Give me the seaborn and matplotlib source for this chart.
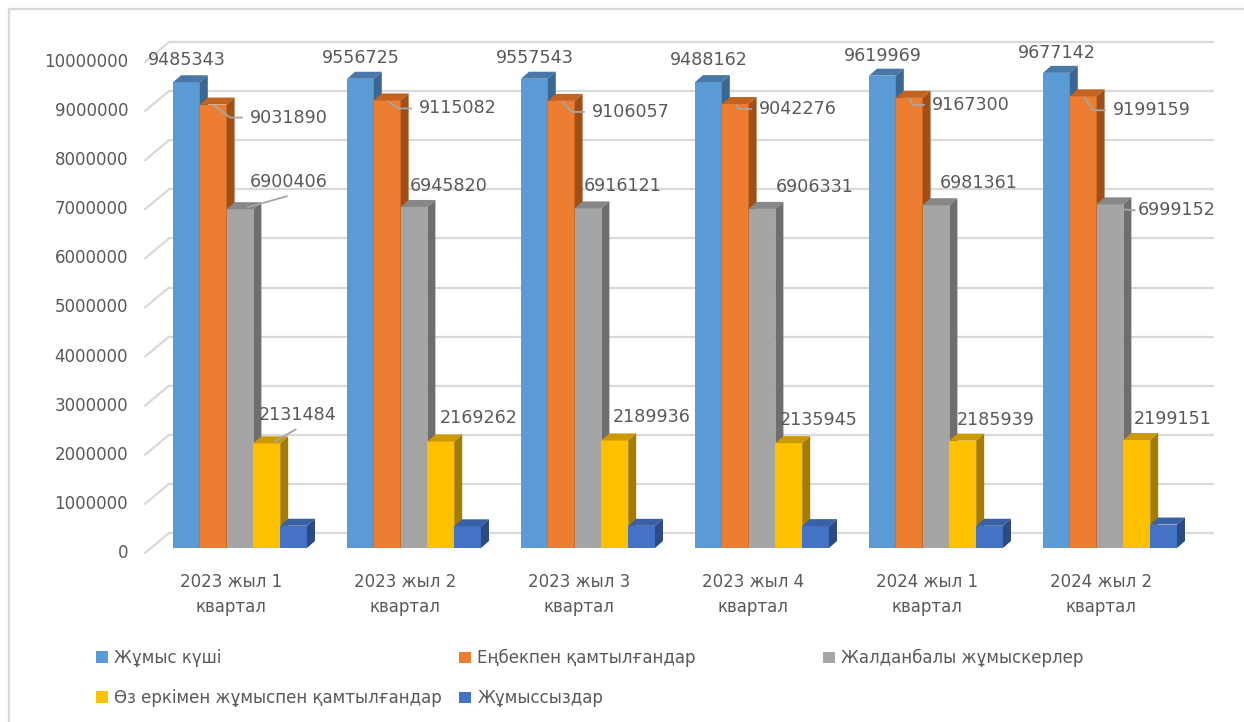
import matplotlib
matplotlib.use('Agg')
import matplotlib.pyplot as plt
import matplotlib.transforms as mtransforms
from matplotlib.patches import Polygon, Patch, Rectangle
from matplotlib.lines import Line2D
import pandas as pd
import seaborn as sns

# Data
quarters = ['2023 жыл 1\nквартал', '2023 жыл 2\nквартал', '2023 жыл 3\nквартал',
            '2023 жыл 4\nквартал', '2024 жыл 1\nквартал', '2024 жыл 2\nквартал']
series = ['Жұмыс күші', 'Еңбекпен қамтылғандар', 'Жалданбалы жұмыскерлер',
          'Өз еркімен жұмыспен қамтылғандар', 'Жұмыссыздар']

labour_force = [9485343, 9556725, 9557543, 9488162, 9619969, 9677142]
employed = [9031890, 9115082, 9106057, 9042276, 9167300, 9199159]
hired = [6900406, 6945820, 6916121, 6906331, 6981361, 6999152]
self_employed = [2131484, 2169262, 2189936, 2135945, 2185939, 2199151]
unemployed = [453453, 441643, 451486, 445886, 452669, 477983]

y_ticks = list(range(0, 10_000_001, 1_000_000))

# colours: front, top and side faces of the pseudo-3D bars
front_colors = ['#5B9BD5', '#ED7D31', '#A5A5A5', '#FFC000', '#4472C4']
top_colors = ['#4778A8', '#C4621F', '#878787', '#CC9A00', '#3A60A6']
side_colors = ['#3B6792', '#A04F17', '#6E6E6E', '#A67C00', '#2C4A85']
text_color = '#595959'
grid_color = '#D9D9D9'

# label offsets in pixels (right, down) from the top centre of each bar
label_dx = [[0, 0, 0, 0, 0, 0],
            [76, 71, 70, 63, 62, 69],
            [49, 35, 35, 53, 43, 67],
            [31, 38, 37, 30, 33, 36]]
label_dy = [[-22, -21, -21, -22, -20, -20],
            [13, 8, 11, 5, 7, 14],
            [-27, -21, -22, -22, -22, 6],
            [-28, -23, -23, -23, -21, -21]]
extra_leaders = [(2, 0), (2, 5), (3, 0)]

df = pd.DataFrame({
    'quarter': quarters * 5,
    'series': [s for s in series for _ in quarters],
    'value': labour_force + employed + hired + self_employed + unemployed,
})

sns.set_theme(style='white')
plt.rcParams['font.family'] = ['DejaVu Sans']

W, H = 1244, 722
fig = plt.figure(figsize=(W / 100, H / 100), dpi=100)
fig.patch.set_facecolor('white')
ax = fig.add_axes([153 / W, (H - 548) / H, 1044 / W, 491 / H])

sns.barplot(data=df, x='quarter', y='value', hue='series', order=quarters,
            hue_order=series, palette=front_colors, saturation=1, width=0.77,
            errorbar=None, legend=False, linewidth=0, ax=ax)

ax.set_xlim(-0.5, 5.5)
ax.set_ylim(0, 10_000_000)
ax.set_xticks([])
ax.set_yticks([])
ax.set_xlabel('')
ax.set_ylabel('')
ax.grid(False)
ax.set_facecolor('none')
for sp in ax.spines.values():
    sp.set_visible(False)


def shift(dx, dy):
    return mtransforms.ScaledTranslation(dx / 100, dy / 100, fig.dpi_scale_trans)


ident = mtransforms.IdentityTransform()

# back-wall gridlines with short diagonal on the side wall
for v in y_ticks:
    xl, y = ax.transData.transform((-0.5, v))
    xr, _ = ax.transData.transform((5.5, v))
    ax.add_line(Line2D([xl + 16, xr + 16], [y + 15, y + 15], transform=ident,
                       color=grid_color, lw=1.6, zorder=0.5, clip_on=False))
    ax.add_line(Line2D([xl - 8, xl + 16], [y - 5, y + 15], transform=ident,
                       color=grid_color, lw=1.6, zorder=0.5, clip_on=False))

# y tick labels
ytrans = mtransforms.blended_transform_factory(ax.transAxes, ax.transData) + shift(-25, -5)
for v in y_ticks:
    ax.text(0, v, str(v), transform=ytrans, ha='right', va='center',
            fontsize=12, color=text_color)

# category labels
for i, q in enumerate(quarters):
    ax.text(i, 0, q, transform=ax.transData + shift(-9, -25), ha='center',
            va='top', fontsize=12, color=text_color, linespacing=1.5)

# pseudo-3D faces
depth_x, depth_y = 8, 7
tops = []
for k, cont in enumerate(ax.containers):
    row = []
    for rect in cont.patches:
        rect.set_zorder(3 + k)
        x0, y0 = rect.get_x(), rect.get_y()
        X0, Y0 = ax.transData.transform((x0, y0))
        X1, Y1 = ax.transData.transform((x0 + rect.get_width(), y0 + rect.get_height()))
        top = Polygon([(X0, Y1), (X1, Y1), (X1 + depth_x, Y1 + depth_y), (X0 + depth_x, Y1 + depth_y)],
                      closed=True, transform=ident, facecolor=top_colors[k],
                      edgecolor='none', zorder=3 + k, clip_on=False)
        side = Polygon([(X1, Y0), (X1, Y1), (X1 + depth_x, Y1 + depth_y), (X1 + depth_x, Y0 + depth_y)],
                       closed=True, transform=ident, facecolor=side_colors[k],
                       edgecolor='none', zorder=3 + k, clip_on=False)
        ax.add_patch(top)
        ax.add_patch(side)
        row.append(((X0 + X1) / 2, Y1))
    tops.append(row)

# data labels (first four series)
lbl_half = 39
for k in range(4):
    vals = [labour_force, employed, hired, self_employed][k]
    for i, v in enumerate(vals):
        cx, ty = tops[k][i]
        lx = cx + label_dx[k][i]
        ly = ty - label_dy[k][i]
        ax.text(lx, ly, str(v), transform=ident, ha='center', va='center',
                fontsize=12.6, color=text_color, zorder=10, clip_on=False)
        if k == 1:
            left = lx - lbl_half
            ax.add_line(Line2D([cx + 1, left - 20, left - 8], [ty - 1, ly, ly],
                               transform=ident, color='#A6A6A6', lw=1.3,
                               zorder=9, clip_on=False))
        elif (k, i) in extra_leaders:
            if label_dy[k][i] > -10:
                xs = [cx + 13, lx - lbl_half - 3]
                ys = [ty - 5, ly]
            else:
                xs = [cx + 8, lx - 2]
                ys = [ty + 2, ly - 14]
            ax.add_line(Line2D(xs, ys, transform=ident, color='#A6A6A6', lw=1.3,
                               zorder=9, clip_on=False))

# legend as three columns
handles = [Patch(facecolor=c, edgecolor='none') for c in front_colors]
legend_cols = [([0, 3], 96), ([1, 4], 459), ([2], 823)]
for idx, xpos in legend_cols:
    leg = fig.legend([handles[j] for j in idx], [series[j] for j in idx],
                     loc='upper left', bbox_to_anchor=(xpos / W, 1 - 649 / H),
                     frameon=False, fontsize=12, labelcolor=text_color,
                     handlelength=0.7, handleheight=0.7, handletextpad=0.4,
                     labelspacing=1.32, borderpad=0, borderaxespad=0)

# chart border
fig.add_artist(Rectangle((9 / W, -0.1), 1.2, (H - 9) / H + 0.1,
                         transform=fig.transFigure, fill=False,
                         edgecolor=grid_color, lw=1.6))

fig.savefig('out.png', dpi=100, facecolor='white')
